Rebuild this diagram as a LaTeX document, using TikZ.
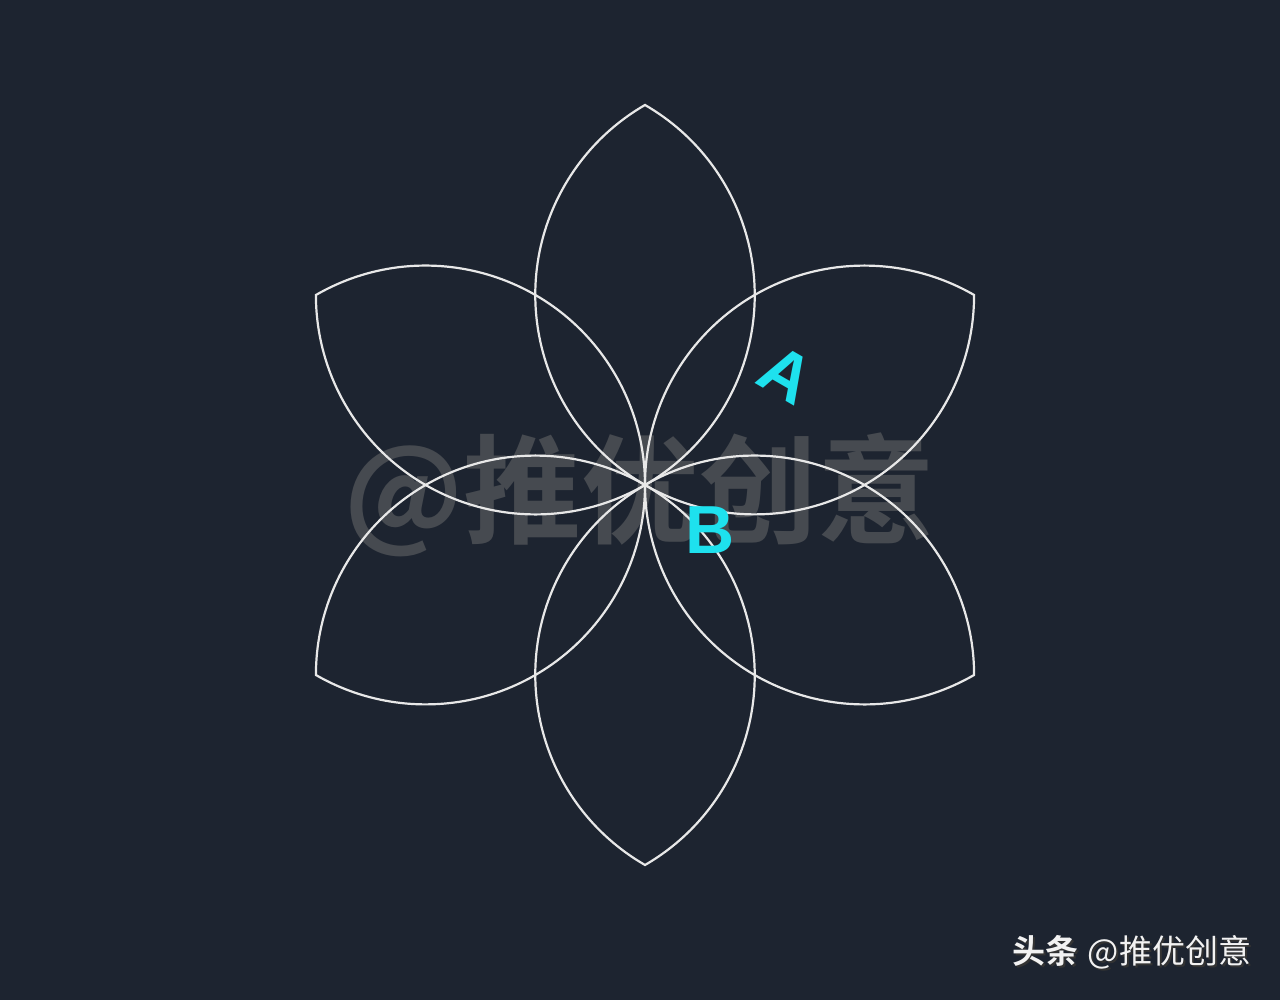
\documentclass[tikz,border=0pt]{standalone}
\usepackage{fontspec}
\setmainfont{Liberation Sans}
\newfontfamily\cjk{Noto Sans CJK SC}
\newfontfamily\cjkb{Noto Sans CJK SC Bold}
\definecolor{bgc}{RGB}{29,36,48}
\definecolor{petalc}{RGB}{232,232,232}
\definecolor{labc}{RGB}{30,225,238}
\definecolor{wmc}{RGB}{70,74,80}
\tikzset{
  petal/.style={draw=petalc, line width=2.2pt, line join=miter},
  lab/.style={text=labc, font=\bfseries\fontsize{68}{70}\selectfont, inner sep=0pt},
}
\begin{document}
\begin{tikzpicture}[x=1pt,y=1pt]
\fill[bgc] (0,0) rectangle (1280,1000);
\useasboundingbox (0,0) rectangle (1280,1000);
% watermark
\node[text=wmc, font=\cjkb\fontsize{118}{120}\selectfont, inner sep=0pt] (wm) at (640,505) {@推优创意};
% petals
\coordinate (c) at (645,515);
\pgfmathsetmacro{\R}{380/sqrt(3)}
\foreach \p in {90,30,-30,-90,-150,150}{
  \draw[petal] (c) arc[start angle=\p+150, end angle=\p+30, radius=\R]
                   arc[start angle=\p-30, end angle=\p-150, radius=\R] -- cycle;
}
% labels
\node[lab, rotate=-30] (la) at (786,625) {A};
\node[lab] (lb) at (710,470) {B};
% footer
\node[text=black!80, font=\fontsize{33}{35}\selectfont, inner sep=0pt] at (1134,46) {{\cjkb 头条} {\cjk @推优创意}};
\node[text=white!95!black, font=\fontsize{33}{35}\selectfont, inner sep=0pt] (ft) at (1132,48) {{\cjkb 头条} {\cjk @推优创意}};
\end{tikzpicture}
\end{document}
